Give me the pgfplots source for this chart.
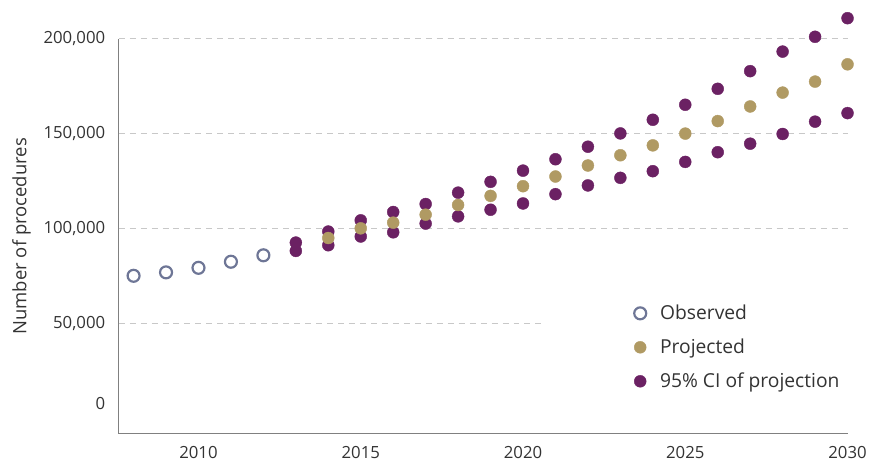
\documentclass[border=0pt]{standalone}
\usepackage{pgfplots}
\pgfplotsset{compat=1.18}
\usepackage{fontspec}
\setmainfont{Open Sans}
\definecolor{cipurple}{HTML}{6B2163}
\definecolor{projgold}{HTML}{B09A63}
\definecolor{obsblue}{HTML}{6E7696}
\definecolor{gridgray}{HTML}{C8C8C8}
\definecolor{axgray}{HTML}{808080}
\definecolor{txt}{HTML}{333333}
\begin{document}
\fontsize{16bp}{19bp}\selectfont
\begin{tikzpicture}
\begin{axis}[
  scale only axis,
  width=731bp, height=396bp,
  xmin=2007.54, xmax=2030,
  ymin=-8000, ymax=200000,
  clip=false,
  scaled y ticks=false,
  axis x line=bottom, axis y line=left,
  axis line style={axgray, line width=1.2bp, -},
  major tick length=0pt,
  xtick={2010,2015,2020,2025,2030},
  xticklabels={2010,2015,2020,2025,2030},
  ytick={50000,100000,150000,200000},
  yticklabels={{50,000},{100,000},{150,000},{200,000}},
  extra y ticks={0},
  extra y tick labels={0},
  extra y tick style={yticklabel style={yshift=15bp}},
  tick label style={font=\fontsize{16.8bp}{19bp}\selectfont, text=txt},
  yticklabel style={xshift=-8bp},
  xticklabel style={yshift=-7bp},
  ylabel={Number of procedures},
  ylabel style={font=\fontsize{18.5bp}{22bp}\selectfont, text=txt, yshift=2bp},
  legend cell align=left,
  legend style={draw=none, fill=none, at={(rel axis cs:0.703,0.337)}, anchor=north west,
    font=\fontsize{19.3bp}{22bp}\selectfont, text=txt, row sep=13bp,
    /tikz/every odd column/.append style={column sep=12bp}},
]
\draw[gridgray, line width=1.2bp, dash pattern=on 6bp off 5bp] (axis cs:2007.54,50000) -- (axis cs:2020.6,50000);
\draw[gridgray, line width=1.2bp, dash pattern=on 6bp off 5bp] (axis cs:2007.54,100000) -- (axis cs:2030,100000);
\draw[gridgray, line width=1.2bp, dash pattern=on 6bp off 5bp] (axis cs:2007.54,150000) -- (axis cs:2030,150000);
\draw[gridgray, line width=1.2bp, dash pattern=on 6bp off 5bp] (axis cs:2007.54,200000) -- (axis cs:2030,200000);

\addplot[only marks, mark=o, mark size=6bp, color=obsblue, line width=2.2bp] coordinates {
(2008,75200) (2009,77000) (2010,79400) (2011,82600) (2012,86000)};
\addlegendentry{Observed}

\addplot[only marks, mark=*, mark size=6bp, color=cipurple, forget plot] coordinates {
(2013,92700) (2014,98500) (2015,104400) (2016,108800) (2017,113000) (2018,119000) (2019,124700)
(2020,130600) (2021,136600) (2022,143200) (2023,150200) (2024,157400) (2025,165300)
(2026,173700) (2027,183000) (2028,193300) (2029,201100) (2030,210900)
(2013,88300) (2014,91300) (2015,95900) (2016,98100) (2017,102700) (2018,106500) (2019,110000)
(2020,113300) (2021,118200) (2022,122800) (2023,126800) (2024,130300) (2025,135200)
(2026,140300) (2027,144800) (2028,149900) (2029,156400) (2030,160900)};

\addplot[only marks, mark=*, mark size=6bp, color=projgold] coordinates {
(2014,95100) (2015,100200) (2016,103200) (2017,107400) (2018,112500) (2019,117300)
(2020,122400) (2021,127500) (2022,133300) (2023,138700) (2024,143900) (2025,150100)
(2026,156700) (2027,164400) (2028,171700) (2029,177500) (2030,186600)};
\addlegendentry{Projected}

\addlegendimage{only marks, mark=*, mark size=6bp, color=cipurple}
\addlegendentry{95\% CI of projection}

\path (rel axis cs:0,0) ++(-119bp,-26bp) coordinate (bbA);
\path (rel axis cs:1,1) ++(22bp,39bp) coordinate (bbB);
\path (bbA) rectangle (bbB);
\end{axis}
\end{tikzpicture}
\end{document}
